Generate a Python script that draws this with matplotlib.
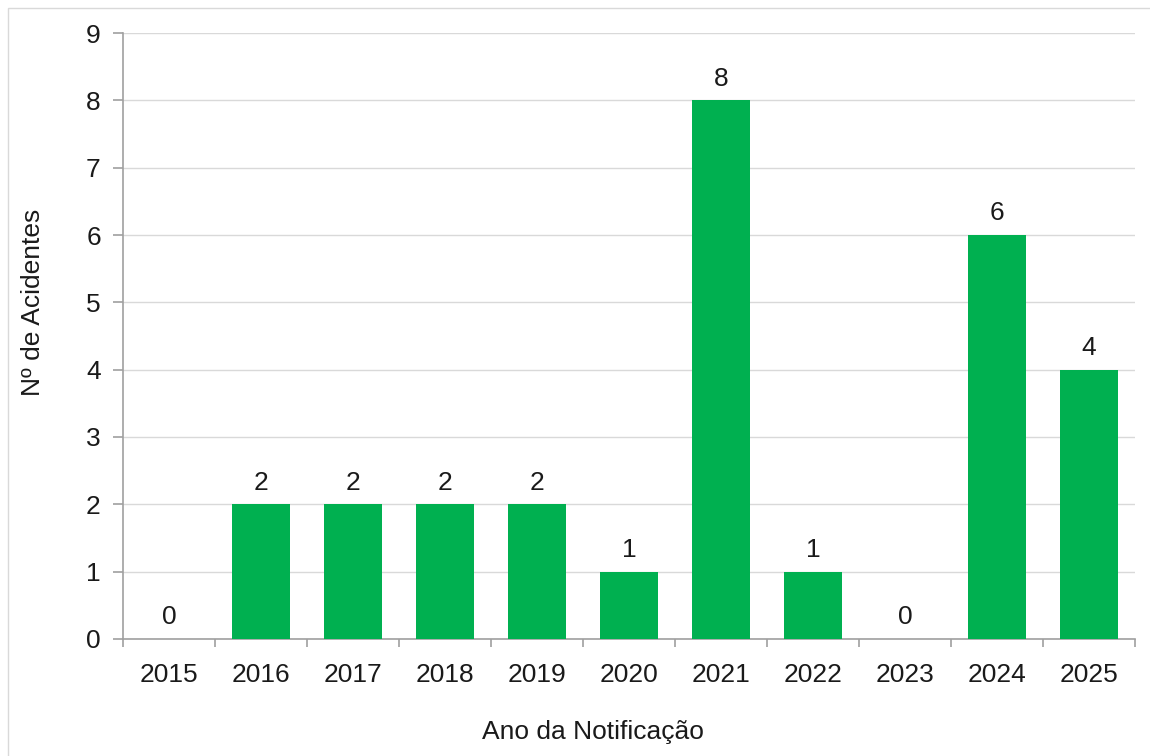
import numpy as np
import matplotlib
matplotlib.use("Agg")
import matplotlib.pyplot as plt
from matplotlib.patches import Rectangle

# Dados
anos = ["2015", "2016", "2017", "2018", "2019", "2020", "2021", "2022", "2023", "2024", "2025"]
acidentes = [0, 2, 2, 2, 2, 1, 8, 1, 0, 6, 4]

plt.rcParams['font.family'] = ['Liberation Sans', 'DejaVu Sans']
FS = 19

fig = plt.figure(figsize=(11.5, 7.56), dpi=100)
ax = fig.add_axes([0.107, 0.1548, 0.880, 0.8015])

x = np.arange(len(anos))
ax.bar(x, acidentes, width=0.63, color="#00B050", zorder=3)

# Rótulos de valor
for xi, v in zip(x, acidentes):
    ax.annotate(str(v), (xi, v), xytext=(0, 7), textcoords="offset points",
                ha="center", va="bottom", fontsize=FS, color="#1a1a1a")

ax.set_xlim(-0.5, len(anos) - 0.5)
ax.set_ylim(0, 9)
ax.set_yticks(range(0, 10))
ax.set_xticks(x)
ax.set_xticklabels(anos)
ax.set_xticks(np.arange(-0.5, len(anos), 1), minor=True)

ax.grid(axis="y", color="#d9d9d9", linewidth=1, zorder=0)
for s in ["top", "right"]:
    ax.spines[s].set_visible(False)
for s in ["left", "bottom"]:
    ax.spines[s].set_color("#a0a0a0")
    ax.spines[s].set_linewidth(1.2)

ax.tick_params(axis="x", which="major", length=0, pad=17, labelsize=FS, labelcolor="#1a1a1a")
ax.tick_params(axis="x", which="minor", length=6, color="#a0a0a0", width=1.2)
ax.tick_params(axis="y", length=7, color="#a0a0a0", width=1.2, pad=9, labelsize=FS, labelcolor="#1a1a1a")

fig.text(0.0287, 0.60, "Nº de Acidentes", rotation=90, ha="center", va="center",
         fontsize=FS, color="#1a1a1a")
fig.text(0.516, 0.032, "Ano da Notificação", ha="center", va="center",
         fontsize=FS, color="#1a1a1a")

# moldura externa
fig.patches.append(Rectangle((8 / 1150, -0.1), 1.2, 1 - 8 / 756 + 0.1,
                             transform=fig.transFigure, fill=False,
                             edgecolor="#d9d9d9", linewidth=1))

fig.savefig("out.png", dpi=100)
